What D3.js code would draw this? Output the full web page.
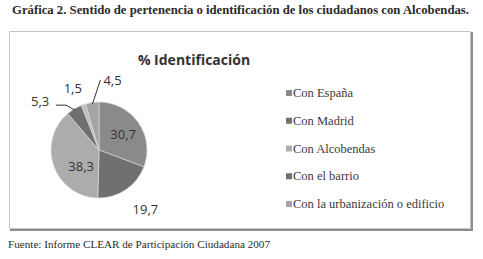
<!DOCTYPE html>
<html lang="es">
<head>
  <meta charset="UTF-8">
  <title>Gráfica 2</title>
  <style>
    body { margin: 0; background: #fff; }
    svg { display: block; }
    .serif { font-family: 'Liberation Serif', 'DejaVu Serif', serif; }
    .sans { font-family: 'Open Sans', 'Liberation Sans', sans-serif; }
  </style>
</head>
<body>
  <script src="https://cdnjs.cloudflare.com/ajax/libs/d3/7.8.5/d3.min.js"></script>
  <svg id="chart" width="483" height="259"></svg>
  <script>
    // datos
    const categorias = ['Con España', 'Con Madrid', 'Con Alcobendas', 'Con el barrio', 'Ns/Nc', 'Con la urbanización o edificio']
    const valores = [30.7, 19.7, 38.3, 5.3, 1.5, 4.5]
    const enLeyenda = ['Con España', 'Con Madrid', 'Con Alcobendas', 'Con el barrio', 'Con la urbanización o edificio']
    const colores = ['#8a8a8a', '#707070', '#acacac', '#6f6f6f', '#bebebe', '#a4a4a4']

    const svg = d3.select('#chart')

    // titulo de la figura
    svg.append('text')
      .attr('class', 'serif')
      .attr('x', 12).attr('y', 14)
      .attr('font-size', 12.5).attr('font-weight', 'bold')
      .attr('fill', '#2a2a2a')
      .attr('textLength', 457).attr('lengthAdjust', 'spacingAndGlyphs')
      .text('Gráfica 2. Sentido de pertenencia o identificación de los ciudadanos con Alcobendas.')

    // marco con sombra
    svg.append('rect')
      .attr('x', 11).attr('y', 33).attr('width', 461).attr('height', 197)
      .attr('fill', 'none').attr('stroke', '#8c8c8c').attr('stroke-width', 2)
    svg.append('rect')
      .attr('x', 9.5).attr('y', 31.5).attr('width', 461).attr('height', 197)
      .attr('fill', '#fff').attr('stroke', '#c4c4c4').attr('stroke-width', 1)

    svg.append('text')
      .attr('class', 'sans')
      .attr('x', 194).attr('y', 65)
      .attr('text-anchor', 'middle')
      .attr('font-size', 14).attr('font-weight', 'bold')
      .attr('fill', '#333')
      .text('% Identificación')

    const cx = 99, cy = 150, r = 48
    const g = svg.append('g').attr('transform', `translate(${cx}, ${cy})`)

    const datos = categorias.map((c, i) => ({ cat: c, val: valores[i] }))
    const pie = d3.pie().value(d => d.val).sort(null)
    const arc = d3.arc().innerRadius(0).outerRadius(r)
    const arcos = pie(datos)

    g.selectAll('path')
      .data(arcos)
      .enter()
      .append('path')
      .attr('d', arc)
      .attr('fill', (d, i) => colores[i])
      .attr('stroke', '#d8d8d8')
      .attr('stroke-width', 0.7)

    // colocacion de las etiquetas (angulo en grados, radio relativo)
    const etiq = [
      { ang: 57, rad: 0.6 },
      { ang: 142, rad: 1.57 },
      { ang: 228, rad: 0.5 },
      { ang: 310, rad: 1.6, linea: 'codo' },
      { ang: 337, rad: 1.4 },
      { ang: 0, rad: 0, linea: 'recta' }
    ]
    const polar = (a, rr) => [rr * Math.sin(a * Math.PI / 180), -rr * Math.cos(a * Math.PI / 180)]
    const fmt = v => String(v).replace('.', ',')

    arcos.forEach((d, i) => {
      const e = etiq[i]
      let [x, y] = polar(e.ang, e.rad * r)
      let anchor = 'middle'
      const mid = (d.startAngle + d.endAngle) / 2 * 180 / Math.PI
      if (e.linea) {
        const p0 = polar(mid, r * 0.97)
        let pts
        if (e.linea === 'codo') {
          pts = [p0, [p0[0] - 9, p0[1] - 5], [p0[0] - 19, p0[1] - 5]]
        } else {
          pts = [p0, [p0[0] + 8, p0[1] - 24]]
          x = p0[0] + 11
          y = p0[1] - 24
          anchor = 'start'
        }
        g.append('path')
          .attr('d', d3.line()(pts))
          .attr('fill', 'none').attr('stroke', '#333').attr('stroke-width', 1)
      }
      g.append('text')
        .attr('class', 'sans')
        .attr('x', x).attr('y', y)
        .attr('text-anchor', anchor)
        .attr('dominant-baseline', 'central')
        .attr('font-size', 13)
        .attr('fill', '#333')
        .text(fmt(d.data.val))
    })

    // leyenda
    const ly = d3.scalePoint().domain(enLeyenda).range([97, 208])
    const leg = svg.selectAll('.leg')
      .data(enLeyenda)
      .enter()
      .append('g')
      .attr('class', 'leg')
      .attr('transform', d => `translate(286, ${ly(d)})`)
    leg.append('rect')
      .attr('x', 0).attr('y', -7).attr('width', 6).attr('height', 6)
      .attr('fill', d => colores[categorias.indexOf(d)])
    leg.append('text')
      .attr('class', 'serif')
      .attr('x', 7).attr('y', 0)
      .attr('font-size', 12.5)
      .attr('fill', '#3a3a3a')
      .text(d => d)

    // fuente
    svg.append('text')
      .attr('class', 'serif')
      .attr('x', 8).attr('y', 248)
      .attr('font-size', 11)
      .attr('fill', '#2a2a2a')
      .attr('textLength', 262).attr('lengthAdjust', 'spacingAndGlyphs')
      .text('Fuente: Informe CLEAR de Participación Ciudadana 2007')
  </script>
</body>
</html>
